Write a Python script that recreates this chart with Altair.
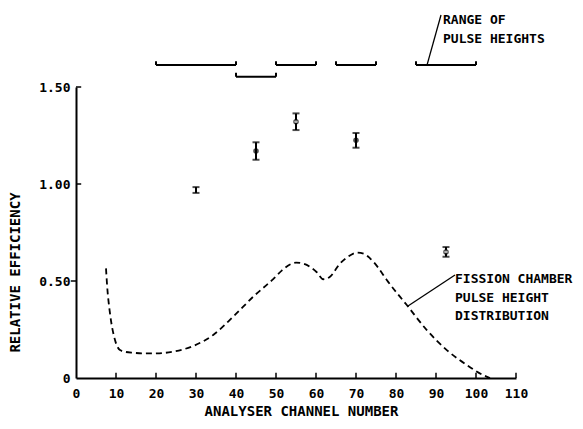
import altair as alt
import pandas as pd

# ---- data ----
curve_ch = [7.5, 7.8, 8.5, 9.75, 11, 12.5, 14.3, 17, 20.2, 24.3, 29.3, 34.3, 39.3, 44.3, 49.3,
            51.5, 53.5, 55, 57, 58.7, 60.2, 61.8, 63.5, 66, 68, 70.2, 72, 73.5, 75.5, 77.7, 82.7,
            87.7, 92.7, 97.7, 101.8, 103.5]
curve_val = [0.565, 0.47, 0.333, 0.196, 0.144, 0.134, 0.13, 0.127, 0.127, 0.136, 0.165, 0.222,
             0.316, 0.419, 0.51, 0.555, 0.585, 0.595, 0.588, 0.57, 0.545, 0.509, 0.522, 0.59,
             0.625, 0.646, 0.64, 0.617, 0.57, 0.505, 0.376, 0.247, 0.144, 0.067, 0.015, 0.0]

pt_ch = [30, 45, 55, 70, 92.5]
pt_eff = [0.969, 1.17, 1.321, 1.225, 0.65]
pt_err = [0.015, 0.045, 0.043, 0.038, 0.025]
pt_filled = [False, True, False, True, False]

br_lo = [20, 40, 50, 65, 85]
br_hi = [40, 50, 60, 75, 100]
br_lvl = [1.613, 1.553, 1.613, 1.613, 1.613]

x_ticks = [10, 20, 30, 40, 50, 60, 70, 80, 90, 100, 110]
y_ticks = [0.5, 1.0, 1.5]
y_tick_dir = [-1, 1, 1]

ann_lines = [
    {"g": "range", "x": 87.75, "y": 1.613},
    {"g": "range", "x": 91.25, "y": 1.871},
    {"g": "fission", "x": 83.0, "y": 0.371},
    {"g": "fission", "x": 94.75, "y": 0.531},
]
ann_text = [
    {"x": 91.75, "y": 1.825, "t": "RANGE OF"},
    {"x": 91.75, "y": 1.727, "t": "PULSE HEIGHTS"},
    {"x": 94.75, "y": 0.49, "t": "FISSION CHAMBER"},
    {"x": 94.75, "y": 0.392, "t": "PULSE HEIGHT"},
    {"x": 94.75, "y": 0.299, "t": "DISTRIBUTION"},
]

FONT = "DejaVu Sans Mono"

xs = alt.Scale(domain=[0, 110], nice=False, zero=False)
ys = alt.Scale(domain=[0, 1.5], nice=False, zero=False)
xaxis = alt.Axis(values=[0, 10, 20, 30, 40, 50, 60, 70, 80, 90, 100, 110], ticks=False,
                 grid=False, domainColor="black", domainWidth=2,
                 labelFont=FONT, labelFontWeight="bold", labelFontSize=13, labelColor="black",
                 labelPadding=9, labelFlush=False, title="ANALYSER CHANNEL NUMBER",
                 titleFont=FONT, titleFontWeight="bold", titleFontSize=14, titleColor="black",
                 titleX=225, titleY=37, titleBaseline="alphabetic")
yaxis = alt.Axis(values=[0, 0.5, 1.0, 1.5], ticks=False, grid=False, domainColor="black",
                 domainWidth=2, labelFont=FONT, labelFontWeight="bold", labelFontSize=13,
                 labelColor="black", labelPadding=6, labelFlush=False,
                 labelExpr="datum.value == 0 ? '0' : format(datum.value, '.2f')",
                 title="RELATIVE EFFICIENCY", titleFont=FONT, titleFontWeight="bold",
                 titleFontSize=14, titleColor="black", titleX=-54, titleY=185)


def X(f):
    return alt.X(f, type="quantitative", scale=xs, axis=xaxis)


def Y(f):
    return alt.Y(f, type="quantitative", scale=ys, axis=yaxis)


curve_df = pd.DataFrame({"x": curve_ch, "y": curve_val})
pts_df = pd.DataFrame({"x": pt_ch, "y": pt_eff, "lo": [a - b for a, b in zip(pt_eff, pt_err)],
                       "hi": [a + b for a, b in zip(pt_eff, pt_err)], "filled": pt_filled})
br_df = pd.DataFrame({"x": br_lo, "x2": br_hi, "y": br_lvl})
br_end = pd.DataFrame({"x": br_lo + br_hi, "y": br_lvl + br_lvl,
                       "y2": [v + 0.02 for v in br_lvl + br_lvl]})
xt_df = pd.DataFrame({"x": x_ticks, "y": [0] * len(x_ticks), "y2": [0.027] * len(x_ticks)})
yt_df = pd.DataFrame({"y": y_ticks, "x": [0] * len(y_ticks),
                      "x2": [1.3 * d for d in y_tick_dir]})

curve = alt.Chart(curve_df).mark_line(color="black", strokeWidth=1.8, strokeDash=[6, 4],
                                      interpolate="monotone").encode(x=X("x"), y=Y("y"))
err = alt.Chart(pts_df).mark_rule(color="black", strokeWidth=2).encode(
    x=X("x"), y=Y("lo"), y2="hi")
caps_lo = alt.Chart(pts_df).mark_tick(color="black", orient="horizontal", size=7,
                                      thickness=2).encode(x=X("x"), y=Y("lo"))
caps_hi = alt.Chart(pts_df).mark_tick(color="black", orient="horizontal", size=7,
                                      thickness=2).encode(x=X("x"), y=Y("hi"))
dots = alt.Chart(pts_df).transform_filter("datum.x > 40").mark_point(
    shape="circle", size=18, strokeWidth=1.3, color="black").encode(
    x=X("x"), y=Y("y"),
    fill=alt.condition("datum.filled", alt.value("black"), alt.value("white")))
brackets = alt.Chart(br_df).mark_rule(color="black", strokeWidth=2).encode(
    x=X("x"), x2="x2", y=Y("y"))
br_ends = alt.Chart(br_end).mark_rule(color="black", strokeWidth=2).encode(
    x=X("x"), y=Y("y"), y2="y2")
xt = alt.Chart(xt_df).mark_rule(color="black", strokeWidth=1.5).encode(
    x=X("x"), y=Y("y"), y2="y2")
yt = alt.Chart(yt_df).mark_rule(color="black", strokeWidth=1.5).encode(
    y=Y("y"), x=X("x"), x2="x2")
lines = alt.Chart(pd.DataFrame(ann_lines)).mark_line(color="black", strokeWidth=1.3).encode(
    x=X("x"), y=Y("y"), detail="g:N")
texts = alt.Chart(pd.DataFrame(ann_text)).mark_text(
    align="left", baseline="alphabetic", font=FONT, fontWeight="bold", fontSize=13,
    color="black").encode(x=X("x"), y=Y("y"), text="t:N")

chart = alt.layer(curve, err, caps_lo, caps_hi, dots, brackets, br_ends, xt, yt, lines,
                  texts).properties(
    width=440, height=291,
    background="white",
    autosize=alt.AutoSizeParams(type="none"),
    padding={"left": 68, "top": 79, "right": 59, "bottom": 43},
).configure_view(strokeWidth=0, stroke="transparent")

chart.save("out.html", embed_options={"renderer": "svg", "actions": False})
